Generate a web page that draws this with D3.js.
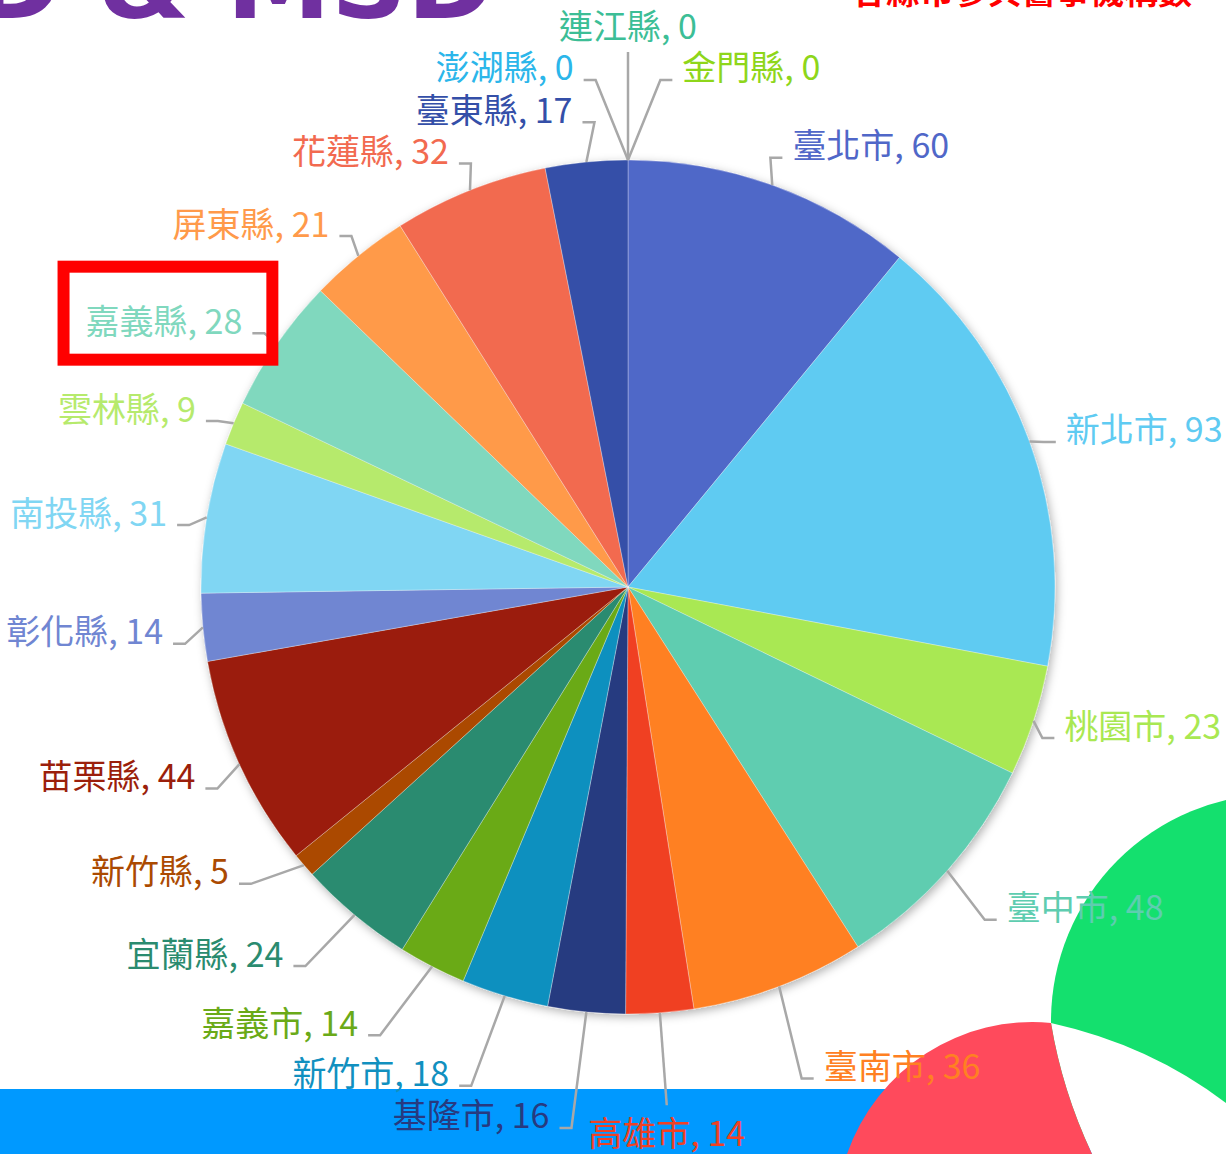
<!DOCTYPE html>
<html lang="zh-Hant">
<head>
<meta charset="utf-8">
<title>各縣市數量圓餅圖</title>
<script src="https://cdn.jsdelivr.net/npm/d3@7"></script>
<style>
  body { margin: 0; background: #fff; }
  svg { display: block; }
  .label { font-family: "Noto Sans CJK TC", sans-serif; font-size: 34px; }
  .connector { fill: none; stroke: #a8a8a8; stroke-width: 2.5; }
</style>
</head>
<body>
<script>
var w = 1226, h = 1154;

// data, clockwise from 12 o'clock
var counties = ["臺北市", "新北市", "桃園市", "臺中市", "臺南市", "高雄市", "基隆市", "新竹市", "嘉義市", "宜蘭縣", "新竹縣",
                "苗栗縣", "彰化縣", "南投縣", "雲林縣", "嘉義縣", "屏東縣", "花蓮縣", "臺東縣", "澎湖縣", "連江縣", "金門縣"];
var counts = [60, 93, 23, 48, 36, 14, 16, 18, 14, 24, 5, 44, 14, 31, 9, 28, 21, 32, 17, 0, 0, 0];
var colors = ["#5067c8", "#5fcbf2", "#a9e852", "#5ecdb0", "#ff8022", "#f04124", "#273a80", "#1190bf", "#6aaa18", "#2a8b6f", "#ab4a01",
              "#9b1f0b", "#7086d2", "#80d6f3", "#b6ea6c", "#80d8be", "#ff9a4a", "#f26a50", "#344fa8", "#2bb6ea", "#3cbe96", "#8ed61a"];
var highlighted = "嘉義縣";

var cx = 628, cy = 587, radius = 427;
var ringBase = radius + 30;        // labels sit here by default
var ringDrop = 75;                 // extra room given to labels on the lower half
var minGap = 11.5 * Math.PI / 180; // min angle between labels on the lower half

var data = counties.map(function (c, i) { return { name: c, value: counts[i], color: colors[i] }; });

var svg = d3.select("body").append("svg")
  .attr("width", w)
  .attr("height", h);

var defs = svg.append("defs");
defs.append("filter")
  .attr("id", "shadow")
  .attr("x", "-10%").attr("y", "-10%").attr("width", "120%").attr("height", "120%")
  .append("feDropShadow")
  .attr("dx", 2).attr("dy", 3)
  .attr("stdDeviation", 5)
  .attr("flood-color", "#000")
  .attr("flood-opacity", 0.3);

// background decoration from the slide
svg.append("rect")
  .attr("x", 0).attr("y", 1089)
  .attr("width", w).attr("height", h - 1089)
  .attr("fill", "#0099ff");
svg.append("circle")
  .attr("cx", 1278).attr("cy", 1021).attr("r", 227)
  .attr("fill", "#14e06e");
svg.append("path")
  .attr("d", "M1051,1023 Q1150,1045 1226,1103 L1226,1154 L1092,1154 Q1062,1090 1051,1023 Z")
  .attr("fill", "#fff");
svg.append("path")
  .attr("d", "M847,1154 A196,196 0 0 1 1051,1023 Q1062,1090 1092,1154 Z")
  .attr("fill", "#ff4a5c");

// pie
var pie = d3.pie()
  .sort(null)
  .value(function (d) { return d.value; })
  .startAngle(0)
  .endAngle(2 * Math.PI);
var arcs = pie(data);

var arc = d3.arc().innerRadius(0).outerRadius(radius);

svg.append("g")
  .attr("transform", "translate(" + cx + "," + cy + ")")
  .attr("filter", "url(#shadow)")
  .selectAll("path")
  .data(arcs.filter(function (d) { return d.value > 0; }))
  .join("path")
  .attr("d", arc)
  .attr("fill", function (d) { return d.data.color; })
  .attr("stroke", "#fff")
  .attr("stroke-opacity", 0.3)
  .attr("stroke-width", 1);

// zero slices share one angle, fan their labels a little
var zeros = arcs.filter(function (d) { return d.value === 0; });
zeros.forEach(function (d, i) { d.fan = (i - (zeros.length - 1) / 2) * 5 * Math.PI / 180; });

var labelG = svg.append("g");
var connG = labelG.append("g");

var labels = arcs.map(function (d) {
  var mid = (d.startAngle + d.endAngle) / 2;
  var a = mid + (d.fan || 0);
  var s = Math.sin(a);
  var l = { d: d, mid: mid, a: a };
  if (Math.abs(s) < 0.08) l.pos = Math.cos(a) > 0 ? "top" : "bottom";
  else l.pos = s > 0 ? "right" : "left";
  l.text = labelG.append("text")
    .attr("class", "label")
    .attr("fill", d.data.color)
    .attr("dominant-baseline", "central")
    .text(d.data.name + ", " + d.data.value);
  l.w = l.text.node().getComputedTextLength();
  return l;
});

// spread crowded labels on the lower half, walking up from the bottom label
var bottom = labels.filter(function (l) { return l.pos === "bottom"; })[0];
var lowLeft = labels.filter(function (l) { return l.pos === "left" && Math.cos(l.a) < 0; })
  .sort(function (a, b) { return a.a - b.a; });
var lowRight = labels.filter(function (l) { return l.pos === "right" && Math.cos(l.a) < 0; })
  .sort(function (a, b) { return b.a - a.a; });
var prev = bottom ? bottom.a : -Infinity;
lowLeft.forEach(function (l) { l.a = Math.max(l.a, prev + minGap); prev = l.a; });
prev = bottom ? bottom.a : Infinity;
lowRight.forEach(function (l) { l.a = Math.min(l.a, prev - minGap); prev = l.a; });

function place(l, R) {
  var c = Math.cos(l.a);
  l.R = R;
  l.px = cx + R * Math.sin(l.a);
  l.py = cy - R * c;
  if (l.pos === "top" || l.pos === "bottom") {
    l.tx = l.px;
    l.cy = l.py;
    l.ty = l.pos === "top" ? l.py - 28 : l.py + 26;
    l.box = [l.px - l.w / 2, l.ty - 18, l.px + l.w / 2, l.ty + 18];
  } else {
    l.cy = l.py + 15 * (1 - Math.abs(c));
    l.ty = l.cy - 14;
    l.tx = l.pos === "right" ? l.px + 10 : l.px - 10;
    l.box = l.pos === "right" ? [l.tx, l.ty - 18, l.tx + l.w, l.ty + 18] : [l.tx - l.w, l.ty - 18, l.tx, l.ty + 18];
  }
}

function hits(a, b) {
  var m = 5;
  return a[0] < b[2] + m && b[0] < a[2] + m && a[1] < b[3] + m && b[1] < a[3] + m;
}

function outside(b) {
  return b[3] > h - 4 || b[1] < 4 || b[2] > w - 3 || b[0] < 3;
}

var placed = [];
function settle(l, R) {
  place(l, R);
  var guard = 0;
  while (placed.some(function (o) { return hits(o.box, l.box); }) && guard++ < 300) place(l, l.R + 2);
  while (outside(l.box) && guard++ < 600) place(l, l.R - 2);
}

function baseRadius(l) {
  var drop = Math.max(0, Math.min(1, (-Math.cos(l.a) - 0.35) / 0.65));
  return ringBase + ringDrop * drop;
}

// most horizontal labels first, later ones get pushed outwards along their ray
var byCos = function (a, b) { return Math.abs(Math.cos(a.a)) - Math.abs(Math.cos(b.a)); };
labels.filter(function (l) { return l.d.value !== 0; }).sort(byCos).forEach(function (l) {
  settle(l, baseRadius(l));
  placed.push(l);
});

// the fanned zero labels: side ones share one radius, the centre one goes above them
var fanSide = zeros.map(function (d) { return labels[d.index]; })
  .filter(function (l) { return l.pos === "left" || l.pos === "right"; });
fanSide.forEach(function (l) { settle(l, baseRadius(l)); });
var fanR = d3.max(fanSide, function (l) { return l.R; });
fanSide.forEach(function (l) { place(l, fanR); placed.push(l); });
zeros.map(function (d) { return labels[d.index]; })
  .filter(function (l) { return l.pos === "top" || l.pos === "bottom"; })
  .forEach(function (l) { settle(l, baseRadius(l)); placed.push(l); });

var line = d3.line();
labels.forEach(function (l) {
  var t = [cx + radius * Math.sin(l.mid), cy - radius * Math.cos(l.mid)];
  var pts;
  if (l.pos === "top" || l.pos === "bottom") {
    pts = [t, [l.px, l.py]];
  } else {
    var dir = l.pos === "right" ? 1 : -1;
    pts = [t, [l.px - 12 * dir, l.cy], [l.px, l.cy]];
  }
  connG.append("path").attr("class", "connector").attr("d", line(pts));
  l.text
    .attr("x", l.tx)
    .attr("y", l.ty)
    .attr("text-anchor", l.pos === "right" ? "start" : l.pos === "left" ? "end" : "middle");
});

// red box around the highlighted county
labels.filter(function (l) { return l.d.data.name === highlighted; }).forEach(function (l) {
  var bb = l.text.node().getBBox();
  svg.append("rect")
    .attr("x", bb.x - 22)
    .attr("y", bb.y - 28)
    .attr("width", bb.width + 52)
    .attr("height", bb.height + 44)
    .attr("fill", "none")
    .attr("stroke", "#ff0000")
    .attr("stroke-width", 12);
});

// slide titles, cut off by the top edge
svg.append("text")
  .attr("x", -26).attr("y", 18)
  .attr("textLength", 520)
  .attr("lengthAdjust", "spacingAndGlyphs")
  .attr("fill", "#7030a0")
  .style("font-family", "DejaVu Sans, sans-serif")
  .style("font-weight", "bold")
  .style("font-size", "100px")
  .text("D & MSD");

svg.append("text")
  .attr("x", 1192).attr("y", 4)
  .attr("text-anchor", "end")
  .attr("fill", "#ff0000")
  .style("font-family", "Noto Sans CJK TC, sans-serif")
  .style("font-weight", "bold")
  .style("font-size", "34px")
  .text("各縣市參與醫事機構數");
</script>
</body>
</html>
